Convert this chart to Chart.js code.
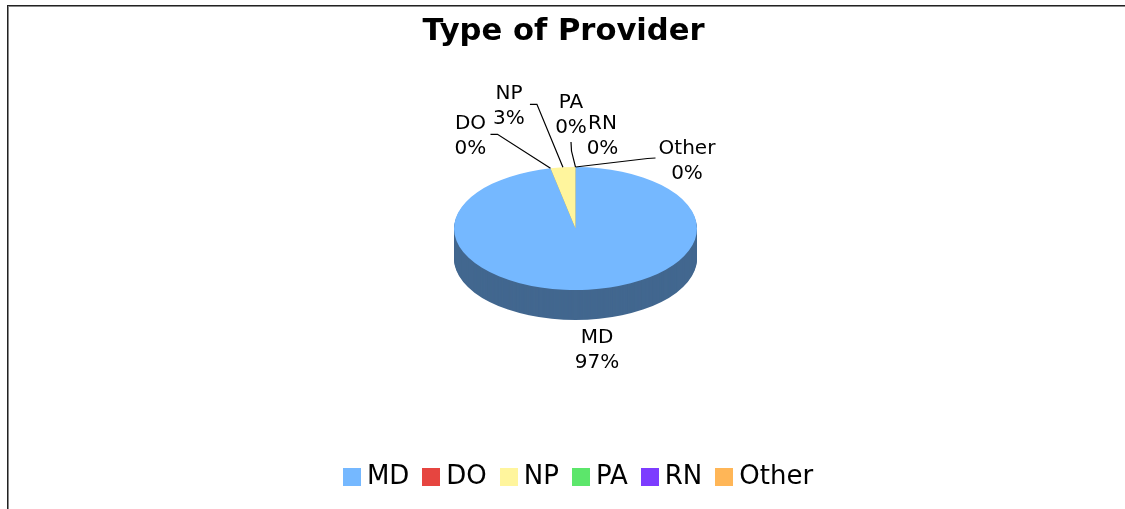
<!DOCTYPE html>
<html>
<head>
<meta charset="utf-8">
<title>Type of Provider</title>
<script src="https://cdn.jsdelivr.net/npm/chart.js@4/dist/chart.umd.js"></script>
<style>
    html, body { margin: 0; padding: 0; background: #fff; overflow: hidden; }
    #frame { position: absolute; left: 7px; top: 5px; right: 0; bottom: 0; border-top: 1px solid #222; border-left: 1px solid #222; box-shadow: inset 1px 1px 0 #888; }
    #chart { position: absolute; left: 0; top: 0; }
</style>
</head>
<body>
<div id="frame"></div>
<canvas id="chart" width="1125" height="509"></canvas>
<script>
// --- Data ---
const categories = ['MD', 'DO', 'NP', 'PA', 'RN', 'Other'];
const shares = [96.7, 0, 3.3, 0, 0, 0];
const sliceColors = ['#75B8FF', '#E64540', '#FFF59D', '#5CE66B', '#7D3CFF', '#FFB657'];

// --- Look of the fake 3D pie ---
const pie = { x: 575.5, y: 228.5, radius: 121.5, tilt: 0.506, depth: 30, shade: 0.56 };
const labelFont = '20px "DejaVu Sans"';
const labelLineHeight = 25;

// label centre and leader bends, relative to where the slice meets the rim
const labelOffsets = [
    { dx: 9, dy: 48 },
    { dx: -80, dy: -45, leader: [[-53, -34], [-60, -34]] },
    { dx: -54, dy: -74, leader: [[-26, -63], [-33, -63]] },
    { dx: -4.5, dy: -64, leader: [[-4, -16], [-4.5, -25]] },
    { dx: 27, dy: -43.5 },
    { dx: 111.5, dy: -18.5, leader: [[72, -8.5], [80, -9]] }
];

const darken = (hex, k) => {
    const n = parseInt(hex.slice(1), 16);
    const c = [n >> 16, (n >> 8) & 255, n & 255].map(v => Math.round(v * k));
    return `rgb(${c[0]},${c[1]},${c[2]})`;
};

// square legend swatches, wider than the gap Chart.js leaves for the box
const legendIcons = sliceColors.map(color => {
    const icon = document.createElement('canvas');
    icon.width = 18;
    icon.height = 18;
    const g = icon.getContext('2d');
    g.fillStyle = color;
    g.fillRect(0, 0, 18, 18);
    return icon;
});

const tiltedPie = {
    id: 'tiltedPie',
    afterLayout(chart) {
        // legend and title sit a little right of the canvas centre in the original
        chart.legend.left += 19;
        chart.legend.right += 19;
        chart.titleBlock.left += 1;
        chart.titleBlock.right += 1;
    },
    beforeDatasetsDraw(chart) {
        const arcs = chart.getDatasetMeta(0).data;
        const { x, y } = arcs[0];
        const { ctx } = chart;
        ctx.save();
        ctx.translate(pie.x, pie.y);
        ctx.scale(1, pie.tilt);
        ctx.translate(-x, -y);
        // side wall: the same arcs repeated downwards in a darker colour
        for (let d = pie.depth; d > 0; d--) {
            arcs.forEach((arc, i) => {
                if (shares[i] === 0) return;
                ctx.fillStyle = darken(sliceColors[i], pie.shade);
                ctx.beginPath();
                ctx.moveTo(x, y + d / pie.tilt);
                ctx.arc(x, y + d / pie.tilt, arc.outerRadius, arc.startAngle, arc.endAngle);
                ctx.closePath();
                ctx.fill();
            });
        }
    },
    afterDatasetsDraw(chart) {
        const { ctx } = chart;
        ctx.restore();

        const arcs = chart.getDatasetMeta(0).data;
        const total = shares.reduce((a, b) => a + b, 0);
        ctx.save();
        ctx.font = labelFont;
        ctx.textAlign = 'center';
        ctx.textBaseline = 'middle';
        arcs.forEach((arc, i) => {
            const mid = (arc.startAngle + arc.endAngle) / 2;
            const rimX = pie.x + arc.outerRadius * Math.cos(mid);
            const rimY = pie.y + arc.outerRadius * pie.tilt * Math.sin(mid);
            const place = labelOffsets[i];
            if (place.leader) {
                ctx.strokeStyle = '#000';
                ctx.lineWidth = 1.2;
                ctx.beginPath();
                ctx.moveTo(rimX, rimY);
                place.leader.forEach(p => ctx.lineTo(rimX + p[0], rimY + p[1]));
                ctx.stroke();
            }
            ctx.fillStyle = '#000';
            ctx.fillText(categories[i], rimX + place.dx, rimY + place.dy);
            ctx.fillText(Math.round(shares[i] / total * 100) + '%', rimX + place.dx, rimY + place.dy + labelLineHeight);
        });
        ctx.restore();
    }
};

new Chart(document.getElementById('chart'), {
    type: 'pie',
    data: {
        labels: categories,
        datasets: [{
            data: shares,
            backgroundColor: sliceColors,
            borderWidth: 0,
            radius: pie.radius,
            clip: false
        }]
    },
    options: {
        responsive: false,
        animation: false,
        layout: { padding: { bottom: 9 } },
        plugins: {
            tooltip: { enabled: false },
            title: {
                display: true,
                text: 'Type of Provider',
                color: '#000',
                font: { family: '"DejaVu Sans"', size: 30.6, weight: 'bold' },
                padding: { top: 14, bottom: 0 }
            },
            legend: {
                position: 'bottom',
                labels: {
                    color: '#000',
                    font: { family: '"DejaVu Sans"', size: 26 },
                    usePointStyle: true,
                    pointStyleWidth: 4,
                    padding: 20,
                    generateLabels: (chart) => {
                        const items = Chart.overrides.pie.plugins.legend.labels.generateLabels(chart);
                        items.forEach((item, i) => { item.pointStyle = legendIcons[i]; item.hidden = false; });
                        return items;
                    }
                }
            }
        }
    },
    plugins: [tiltedPie]
});
</script>
</body>
</html>
